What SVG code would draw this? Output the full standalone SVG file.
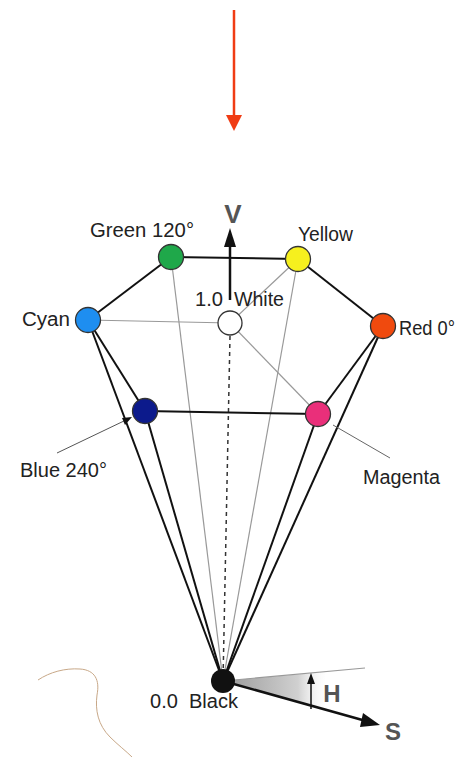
<svg xmlns="http://www.w3.org/2000/svg" width="458" height="757" viewBox="0 0 458 757">
<defs>
<style>
.lbl{font-family:"Liberation Sans",Arial,sans-serif;font-size:19.5px;fill:#222}
.big{font-family:"Liberation Sans",Arial,sans-serif;font-weight:bold;fill:#555}
.edge{stroke:#111;stroke-width:2;fill:none}
.thin{stroke:#999;stroke-width:1.2;fill:none}
.node{stroke:#333;stroke-width:1.3}
</style>
<linearGradient id="wedge" x1="223" y1="0" x2="330" y2="0" gradientUnits="userSpaceOnUse">
<stop offset="0" stop-color="#999"/><stop offset="0.7" stop-color="#d0d0d0"/><stop offset="1" stop-color="#fff" stop-opacity="0"/>
</linearGradient>
</defs>
<rect width="458" height="757" fill="#fff"/>

<g id="pointer">
<line x1="234" y1="10" x2="234" y2="116" stroke="#f03c14" stroke-width="2.5"/>
<polygon points="226,115 242,115 234,131" fill="#f03c14"/>
</g>

<g id="artifact">
<path d="M38,680 C50,672 65,668 80,669 C95,670 100,680 97,695 C95,710 98,725 110,737 C118,745 126,751 132,757" fill="none" stroke="#c8a888" stroke-width="1"/>
</g>

<g id="connectors">
<polygon points="223,681 325,672 325,710" fill="url(#wedge)"/>
<line class="thin" x1="223" y1="681" x2="365" y2="668"/>
<line class="thin" x1="171" y1="257" x2="223" y2="681"/>
<line class="thin" x1="298" y1="259" x2="223" y2="681"/>
<line class="thin" x1="88" y1="320" x2="230" y2="323"/>
<line class="thin" x1="298" y1="259" x2="230" y2="323"/>
<line class="thin" x1="230" y1="323" x2="318" y2="414"/>
<line x1="230" y1="336" x2="223" y2="681" stroke="#333" stroke-width="1.5" stroke-dasharray="4,4"/>
<line class="edge" x1="171" y1="257" x2="298" y2="259"/>
<line class="edge" x1="171" y1="257" x2="88" y2="320"/>
<line class="edge" x1="298" y1="259" x2="383" y2="326"/>
<line class="edge" x1="145" y1="411" x2="318" y2="414"/>
<line class="edge" x1="88" y1="320" x2="145" y2="411"/>
<line class="edge" x1="88" y1="320" x2="223" y2="681"/>
<line class="edge" x1="145" y1="411" x2="223" y2="681"/>
<line class="edge" x1="383" y1="326" x2="318" y2="414"/>
<line class="edge" x1="383" y1="326" x2="223" y2="681"/>
<line class="edge" x1="318" y1="414" x2="223" y2="681"/>
<line x1="230" y1="300" x2="230" y2="246" stroke="#111" stroke-width="2.5"/>
<polygon points="224,247 236,247 230,228" fill="#111"/>
<line x1="223" y1="681" x2="366" y2="721" stroke="#111" stroke-width="2.5"/>
<polygon points="363,713 380,725 360,727" fill="#111"/>
<line x1="311" y1="709" x2="311" y2="682" stroke="#111" stroke-width="1.5"/>
<polygon points="307,684 315,684 311,673" fill="#111"/>
<line x1="57" y1="453" x2="126" y2="420" stroke="#555" stroke-width="1"/>
<polygon points="122,418 132,417 125,425" fill="#111"/>
<line x1="333" y1="425" x2="390" y2="458" stroke="#666" stroke-width="1"/>
</g>

<g id="green"><circle class="node" cx="171" cy="257" r="12.5" fill="#1fa84a"/><text class="lbl" x="90" y="237" textLength="104" lengthAdjust="spacingAndGlyphs">Green 120°</text></g>
<g id="yellow"><circle class="node" cx="298" cy="259" r="12.5" fill="#f6f01e"/><text class="lbl" x="298" y="241" textLength="55" lengthAdjust="spacingAndGlyphs">Yellow</text></g>
<g id="cyan"><circle class="node" cx="88" cy="320" r="12.5" fill="#1e8ef0"/><text class="lbl" x="22" y="326" textLength="48" lengthAdjust="spacingAndGlyphs">Cyan</text></g>
<g id="white"><circle class="node" cx="230" cy="323" r="12" fill="#fff"/><text class="lbl" x="195" y="306" textLength="28" lengthAdjust="spacingAndGlyphs">1.0</text><text class="lbl" x="234" y="306" textLength="50" lengthAdjust="spacingAndGlyphs">White</text></g>
<g id="red"><circle class="node" cx="383" cy="326" r="12.5" fill="#f04a0e"/><text class="lbl" x="399" y="335" textLength="56" lengthAdjust="spacingAndGlyphs">Red 0°</text></g>
<g id="blue"><circle class="node" cx="145" cy="411" r="12.5" fill="#0c1a8c"/><text class="lbl" x="20" y="477" textLength="87" lengthAdjust="spacingAndGlyphs">Blue 240°</text></g>
<g id="magenta"><circle class="node" cx="318" cy="414" r="12.5" fill="#ea2f7a"/><text class="lbl" x="363" y="484" textLength="77" lengthAdjust="spacingAndGlyphs">Magenta</text></g>
<g id="black"><circle cx="223" cy="681" r="12" fill="#111"/><text class="lbl" x="150" y="708" textLength="88" lengthAdjust="spacingAndGlyphs" xml:space="preserve">0.0  Black</text></g>
<g id="axes">
<text class="big" x="233" y="223" font-size="26" text-anchor="middle">V</text>
<text class="big" x="332" y="702" font-size="24" text-anchor="middle">H</text>
<text class="big" x="393" y="740" font-size="24" text-anchor="middle">S</text>
</g>
</svg>
